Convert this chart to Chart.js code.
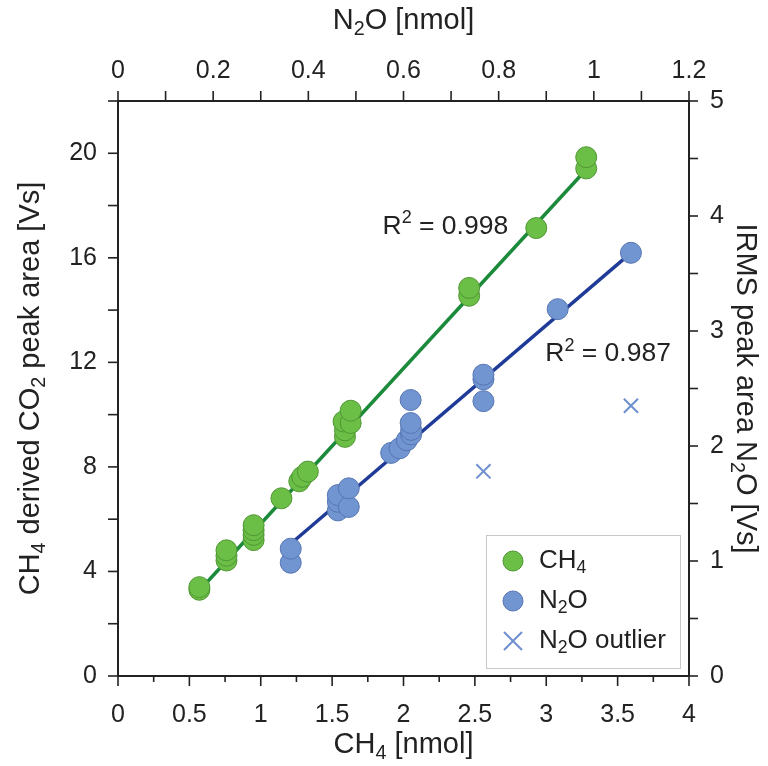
<!DOCTYPE html>
<html>
<head>
<meta charset="utf-8">
<script src="https://cdn.jsdelivr.net/npm/chart.js@4.4.1/dist/chart.umd.min.js"></script>
<style>
html, body { margin: 0; padding: 0; background: #fff; }
#wrap { width: 768px; height: 766px; }
</style>
</head>
<body>
<div id="wrap"><canvas id="calChart" width="768" height="766"></canvas></div>
<script>
// CH4 standards : x = CH4 [nmol] (bottom), y = CO2 peak area [Vs] (left)
const ch4X = [0.57, 0.57, 0.76, 0.76, 0.76, 0.95, 0.95, 0.95, 0.95, 1.145, 1.27, 1.29, 1.33,
              1.59, 1.59, 1.58, 1.63, 1.63, 2.46, 2.46, 2.93, 3.28, 3.28];
const ch4Y = [3.30, 3.40, 4.42, 4.60, 4.81, 5.20, 5.40, 5.58, 5.77, 6.80, 7.45, 7.62, 7.82,
              9.15, 9.40, 9.74, 9.68, 10.15, 14.55, 14.85, 17.14, 19.42, 19.85];

// N2O standards : x = N2O [nmol] (top), y = IRMS peak area [Vs] (right)
const n2oX = [0.363, 0.363, 0.462, 0.462, 0.462, 0.485, 0.485, 0.574, 0.592, 0.607, 0.616,
              0.616, 0.615, 0.615, 0.768, 0.768, 0.768, 0.924, 1.078];
const n2oY = [0.985, 1.107, 1.44, 1.515, 1.573, 1.47, 1.632, 1.94, 1.98, 2.05, 2.10,
              2.14, 2.20, 2.40, 2.39, 2.58, 2.62, 3.19, 3.68];

// outliers (not in fit)
const outX = [0.768, 1.078];
const outY = [1.78, 2.35];

// regression lines, end points
const ch4FitX = [0.57, 3.28];
const ch4FitY = [3.27, 19.38];
const n2oFitX = [0.363, 1.078];
const n2oFitY = [1.15, 3.68];

// R2 labels (placed in CH4 axis units)
const r2Text = ['0.998', '0.987'];
const r2PosX = [1.853, 2.993];
const r2PosY = [17.2, 12.34];

// ticks
const bottomTicks = [0, 0.5, 1, 1.5, 2, 2.5, 3, 3.5, 4];
const bottomMinor = [0.25, 0.75, 1.25, 1.75, 2.25, 2.75, 3.25, 3.75];
const topTicks = [0, 0.2, 0.4, 0.6, 0.8, 1, 1.2];
const topMinor = [0.1, 0.3, 0.5, 0.7, 0.9, 1.1];
const leftTicks = [0, 4, 8, 12, 16, 20];
const leftMinor = [2, 6, 10, 14, 18, 22];
const rightTicks = [0, 1, 2, 3, 4, 5];
const rightMinor = [0.5, 1.5, 2.5, 3.5, 4.5];

const GREEN = '#6cbf46', GREEN_EDGE = '#4f9634', GREEN_LINE = '#1c8a3b';
const BLUE = '#7195d1', BLUE_EDGE = '#5675b3', BLUE_LINE = '#1f3b97';
const CROSS = '#6e8fd0';
const INK = '#222';
const FONT = "'Liberation Sans', Arial, sans-serif";
const TITLE_SIZE = 29;

function pts(xs, ys) { return xs.map((v, i) => ({ x: v, y: ys[i] })); }

// draw text made of pieces, some sub / superscript
function drawParts(ctx, parts, x, y, size, align, rot) {
    ctx.save();
    ctx.translate(x, y);
    if (rot) ctx.rotate(rot);
    ctx.textBaseline = 'middle';
    ctx.textAlign = 'left';
    let total = 0;
    parts.forEach(p => {
        ctx.font = (p[1] ? size * 0.68 : size) + 'px ' + FONT;
        total += ctx.measureText(p[0]).width;
    });
    let cx = align === 'center' ? -total / 2 : 0;
    parts.forEach(p => {
        const s = p[1] ? size * 0.68 : size;
        ctx.font = s + 'px ' + FONT;
        let dy = 0;
        if (p[1] === 'sub') dy = size * 0.28;
        if (p[1] === 'sup') dy = -size * 0.3;
        ctx.fillStyle = INK;
        ctx.fillText(p[0], cx, dy);
        cx += ctx.measureText(p[0]).width;
    });
    ctx.restore();
}

const decorPlugin = {
    id: 'decor',
    afterDraw(chart) {
        const ctx = chart.ctx;
        const a = chart.chartArea;
        const sx = chart.scales.x, sx2 = chart.scales.x2, sy = chart.scales.y, sy2 = chart.scales.y2;
        ctx.save();
        ctx.strokeStyle = INK;
        ctx.lineWidth = 1.6;
        function tick(x1, y1, x2, y2) {
            ctx.beginPath(); ctx.moveTo(x1, y1); ctx.lineTo(x2, y2); ctx.stroke();
        }
        bottomTicks.forEach(v => { const p = sx.getPixelForValue(v); tick(p, a.bottom, p, a.bottom + 10); });
        bottomMinor.forEach(v => { const p = sx.getPixelForValue(v); tick(p, a.bottom, p, a.bottom + 6); });
        topTicks.concat(topMinor).forEach(v => { const p = sx2.getPixelForValue(v); tick(p, a.top, p, a.top - 10); });
        leftTicks.concat(leftMinor).forEach(v => { const p = sy.getPixelForValue(v); tick(a.left, p, a.left - 10, p); });
        rightTicks.concat(rightMinor).forEach(v => { const p = sy2.getPixelForValue(v); tick(a.right, p, a.right + 9, p); });
        ctx.restore();

        // axis titles
        const midX = (a.left + a.right) / 2, midY = (a.top + a.bottom) / 2;
        drawParts(ctx, [['CH'], ['4', 'sub'], [' [nmol]']], midX, 745, TITLE_SIZE, 'center');
        drawParts(ctx, [['N'], ['2', 'sub'], ['O [nmol]']], midX, 21, TITLE_SIZE, 'center');
        drawParts(ctx, [['CH'], ['4', 'sub'], [' derived CO'], ['2', 'sub'], [' peak area [Vs]']], 31, midY, TITLE_SIZE, 'center', -Math.PI / 2);
        drawParts(ctx, [['IRMS peak area N'], ['2', 'sub'], ['O [Vs]']], 745, midY, TITLE_SIZE, 'center', Math.PI / 2);

        // R2 labels
        r2Text.forEach((t, i) => {
            drawParts(ctx, [['R'], ['2', 'sup'], [' = ' + t]], sx.getPixelForValue(r2PosX[i]), sy.getPixelForValue(r2PosY[i]), 26.5, 'left');
        });

        // legend box
        const bx = a.right - 203, by = a.bottom - 141, bw = 194, bh = 133;
        ctx.save();
        ctx.fillStyle = '#fff';
        ctx.fillRect(bx, by, bw, bh);
        ctx.strokeStyle = '#c8c8c8';
        ctx.lineWidth = 1;
        ctx.strokeRect(bx + 0.5, by + 0.5, bw, bh);
        const sxp = bx + 27;
        const rows = [by + 26, by + 66, by + 106];
        ctx.lineWidth = 1;
        ctx.fillStyle = GREEN; ctx.strokeStyle = GREEN_EDGE;
        ctx.beginPath(); ctx.arc(sxp, rows[0], 10, 0, Math.PI * 2); ctx.fill(); ctx.stroke();
        ctx.fillStyle = BLUE; ctx.strokeStyle = BLUE_EDGE;
        ctx.beginPath(); ctx.arc(sxp, rows[1], 10, 0, Math.PI * 2); ctx.fill(); ctx.stroke();
        ctx.strokeStyle = CROSS; ctx.lineWidth = 2;
        ctx.beginPath();
        ctx.moveTo(sxp - 9, rows[2] - 9); ctx.lineTo(sxp + 9, rows[2] + 9);
        ctx.moveTo(sxp + 9, rows[2] - 9); ctx.lineTo(sxp - 9, rows[2] + 9);
        ctx.stroke();
        ctx.restore();
        drawParts(ctx, [['CH'], ['4', 'sub']], bx + 53, rows[0], 26, 'left');
        drawParts(ctx, [['N'], ['2', 'sub'], ['O']], bx + 53, rows[1], 26, 'left');
        drawParts(ctx, [['N'], ['2', 'sub'], ['O outlier']], bx + 53, rows[2], 26, 'left');
    }
};

function axis(pos, min, max, ticks, size) {
    return {
        type: 'linear',
        position: pos,
        min: min,
        max: max,
        grid: { display: false },
        border: { display: true, color: INK, width: 2 },
        afterBuildTicks: s => { s.ticks = ticks.map(v => ({ value: v })); },
        afterFit: s => {
            if (pos === 'left' || pos === 'right') s.width = size; else s.height = size;
        },
        ticks: {
            color: INK,
            font: { family: FONT, size: 25 },
            padding: pos === 'bottom' ? 16 : (pos === 'top' ? 7 : 13),
            maxRotation: 0,
            autoSkip: false,
            callback: v => String(v)
        }
    };
}

const ctx = document.getElementById('calChart').getContext('2d');
new Chart(ctx, {
    type: 'scatter',
    data: {
        datasets: [
            { type: 'line', data: pts(ch4FitX, ch4FitY), borderColor: GREEN_LINE, borderWidth: 3.5,
              pointRadius: 0, xAxisID: 'x', yAxisID: 'y', order: 5 },
            { type: 'line', data: pts(n2oFitX, n2oFitY), borderColor: BLUE_LINE, borderWidth: 3.5,
              pointRadius: 0, xAxisID: 'x2', yAxisID: 'y2', order: 5 },
            { label: 'CH4', data: pts(ch4X, ch4Y), backgroundColor: GREEN, borderColor: GREEN_EDGE,
              borderWidth: 1, pointRadius: 10.5, xAxisID: 'x', yAxisID: 'y', order: 2 },
            { label: 'N2O', data: pts(n2oX, n2oY), backgroundColor: BLUE, borderColor: BLUE_EDGE,
              borderWidth: 1, pointRadius: 10.5, xAxisID: 'x2', yAxisID: 'y2', order: 1 },
            { label: 'N2O outlier', data: pts(outX, outY), pointStyle: 'crossRot', borderColor: CROSS,
              borderWidth: 2, pointRadius: 10, xAxisID: 'x2', yAxisID: 'y2', order: 1 }
        ]
    },
    options: {
        responsive: false,
        animation: false,
        layout: { padding: 0 },
        plugins: { legend: { display: false }, tooltip: { enabled: false } },
        scales: {
            x: axis('bottom', 0, 4, bottomTicks, 90),
            x2: axis('top', 0, 1.2, topTicks, 101),
            y: axis('left', 0, 22, leftTicks, 118),
            y2: axis('right', 0, 5, rightTicks, 79)
        }
    },
    plugins: [decorPlugin]
});
</script>
</body>
</html>
